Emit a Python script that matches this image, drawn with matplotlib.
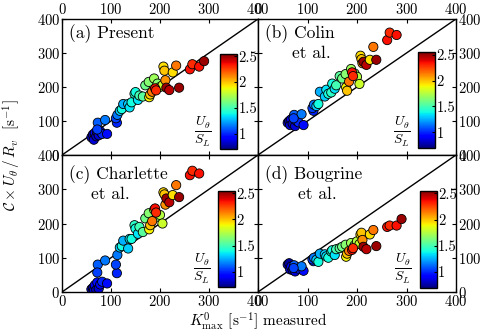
import numpy as np
import matplotlib
matplotlib.use('Agg')
import matplotlib.pyplot as plt

plt.rcParams['font.family'] = 'serif'
plt.rcParams['font.serif'] = ['cmr10', 'DejaVu Serif']
plt.rcParams['mathtext.fontset'] = 'cm'
plt.rcParams['axes.formatter.use_mathtext'] = True
plt.rcParams['font.size'] = 10

# measured K0_max [1/s] and U_theta/S_L (shared by all panels)
k_meas = [60, 63, 65, 67, 70, 72, 75, 78, 82, 92,
          73, 88, 72, 112, 110, 113,
          118, 122, 125, 135, 138, 142, 148, 150, 155, 158,
          165, 170, 177, 188, 195, 200, 205,
          178, 180, 184, 190, 192,
          207, 209, 211, 213, 219, 226, 233, 239,
          261, 266, 280, 290]
u_sl = [0.80, 0.75, 0.85, 0.90, 0.80, 0.95, 0.85, 0.90, 1.00, 0.95,
        1.10, 1.15, 1.05, 1.00, 1.05, 1.15,
        1.30, 1.40, 1.25, 1.30, 1.35, 1.40, 1.45, 1.40, 1.35, 1.50,
        1.55, 1.60, 1.65, 1.70, 1.65, 1.75, 1.80,
        1.90, 2.00, 2.15, 2.35, 2.30,
        1.95, 2.00, 2.10, 2.50, 2.45, 1.95, 2.15, 2.50,
        2.35, 2.30, 2.35, 2.50]
# C x U_theta / R_v for each model
y_present = [52, 60, 45, 65, 55, 68, 58, 70, 62, 62,
             95, 103, 75, 95, 108, 118,
             130, 135, 150, 150, 140, 155, 180, 185, 162, 175,
             172, 205, 215, 225, 210, 200, 205,
             170, 178, 186, 196, 190,
             260, 248, 220, 198, 191, 243, 263, 198,
             252, 267, 260, 276]
y_colin = [95, 100, 88, 105, 92, 110, 85, 100, 96, 88,
           118, 120, 108, 130, 138, 148,
           144, 150, 186, 172, 192, 180, 184, 210, 195, 205,
           232, 225, 238, 253, 240, 230, 209,
           199, 189, 216, 243, 232,
           292, 282, 270, 274, 265, 280, 318, 280,
           338, 360, 353, 420]
y_charlette = [8, 12, 3, 20, 6, 28, 10, 22, 30, 25,
               80, 92, 57, 55, 80, 108,
               130, 134, 150, 127, 155, 155, 195, 185, 170, 190,
               175, 215, 230, 240, 220, 225, 200,
               183, 195, 207, 244, 232,
               291, 285, 255, 273, 262, 283, 312, 277,
               341, 354, 346, 420]
y_bougrine = [80, 84, 66, 74, 64, 70, 60, 72, 68, 62,
              78, 75, 70, 90, 95, 100,
              94, 88, 112, 110, 104, 100, 118, 122, 108, 125,
              128, 132, 138, 143, 136, 148, 140,
              103, 112, 120, 123, 128,
              168, 173, 152, 132, 125, 168, 181, 134,
              190, 194, 194, 213]

panels = [('(a)', 'Present', '', y_present),
          ('(b)', 'Colin', 'et al.', y_colin),
          ('(c)', 'Charlette', 'et al.', y_charlette),
          ('(d)', 'Bougrine', 'et al.', y_bougrine)]

W, H = 481, 336
fig = plt.figure(figsize=(W / 100, H / 100), dpi=100)
boxes = [(62, 19, 196, 136), (258, 19, 198, 136), (62, 155, 196, 137), (258, 155, 198, 137)]
cbar_pos = [(0.806, 0.044, 0.087, 0.70), (0.81, 0.054, 0.085, 0.70),
            (0.797, 0.034, 0.087, 0.705), (0.818, 0.03, 0.085, 0.71)]
etal_x = [0.17, 0.17, 0.15, 0.20]

for i, (lab, name, etal, yv) in enumerate(panels):
    x0, y0, w, h = boxes[i]
    ax = fig.add_axes([x0 / W, 1 - (y0 + h) / H, w / W, h / H])
    ax.plot([0, 400], [0, 400], color='k', lw=1.0, zorder=1)
    sc = ax.scatter(k_meas, yv, c=u_sl, cmap='jet', vmin=0.7, vmax=2.55, s=44,
                    edgecolors='k', linewidths=0.6, zorder=2)
    ax.set_xlim(0, 400); ax.set_ylim(0, 400)
    ax.set_xticks([0, 100, 200, 300, 400]); ax.set_yticks([0, 100, 200, 300, 400])
    top = i < 2; left = i % 2 == 0
    ax.tick_params(direction='in', length=3, top=True, right=True, bottom=True, left=True,
                   labeltop=top, labelbottom=not top, labelleft=left, labelright=not left,
                   labelsize=10.5, pad=1.5)
    for sp in ax.spines.values():
        sp.set_linewidth(1.0)
    ty = 0.89 if top else 0.86
    ax.text(0.035, ty, lab + ' ' + name, transform=ax.transAxes, fontsize=12.5, va='center', ha='left')
    if etal:
        ax.text(etal_x[i], ty - 0.145, etal, transform=ax.transAxes, fontsize=12.5, va='center', ha='left')
    cax = ax.inset_axes(cbar_pos[i])
    cb = fig.colorbar(sc, cax=cax, ticks=[1, 1.5, 2, 2.5])
    cb.ax.set_yticklabels(['1', '1.5', '2', '2.5'])
    cb.ax.tick_params(direction='in', length=2, labelsize=10.5, pad=1)
    cb.outline.set_linewidth(1.0)
    cx = cbar_pos[i][0] - 0.085
    ax.text(cx, 0.17, r'$\frac{U_\theta}{S_L}$', transform=ax.transAxes, fontsize=14,
            ha='center', va='center')

fig.text(12 / W, 1 - 155 / H, r'$\mathcal{C}\times U_\theta\,/\,R_v$  [s$^{-1}$]',
         rotation=90, ha='center', va='center', fontsize=11)
fig.text(258 / W, 1 - 321 / H, r'$K^0_{\max}$ [s$^{-1}$] measured', ha='center', va='center', fontsize=11)

fig.savefig('out.png', dpi=100)
